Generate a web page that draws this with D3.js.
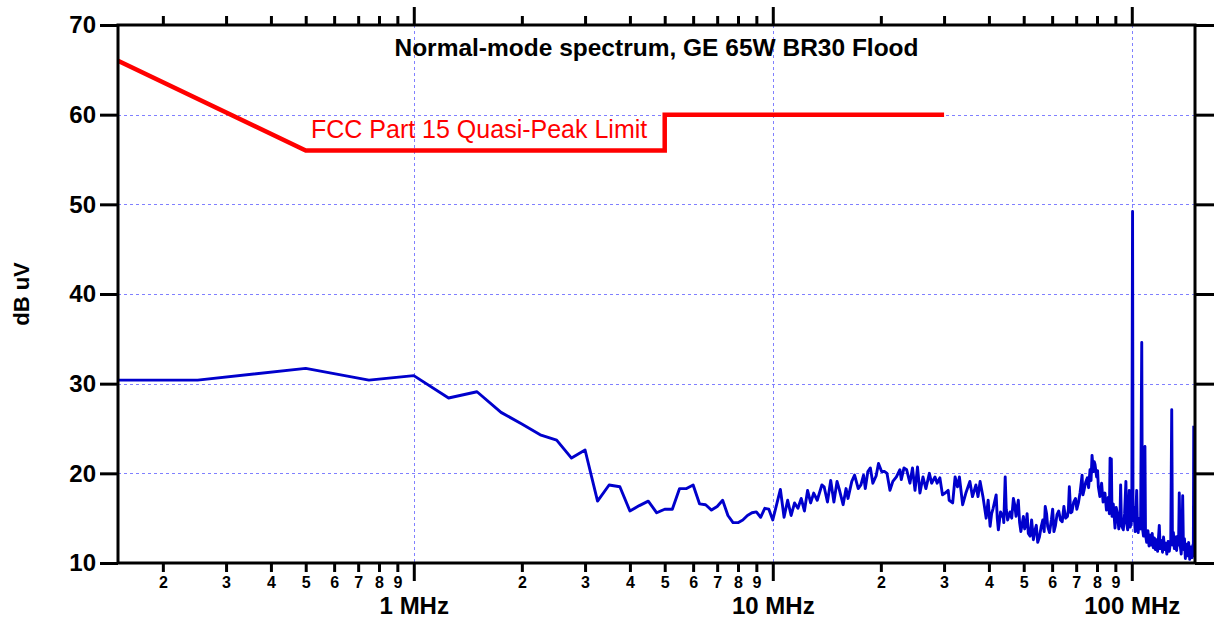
<!DOCTYPE html>
<html>
<head>
<meta charset="utf-8">
<script src="https://cdn.jsdelivr.net/npm/d3@7"></script>
<style>
  html, body { margin: 0; padding: 0; background: #fff; }
  svg { display: block; font-family: "Liberation Sans", Arial, Helvetica, sans-serif; }
</style>
</head>
<body>
<svg id="chart" width="1214" height="622"></svg>
<script>
(function() {
  // {{{ data
  var freqDomain = [0.15, 150];
  var dbDomain = [10, 70];
  var dbTicks = [10, 20, 30, 40, 50, 60, 70];
  var dbGrid = [20, 30, 40, 50, 60];
  var majorFreqs = [1, 10, 100];
  var majorLabels = ["1 MHz", "10 MHz", "100 MHz"];
  var minorFreqs = [0.2, 0.3, 0.4, 0.5, 0.6, 0.7, 0.8, 0.9,
                    2, 3, 4, 5, 6, 7, 8, 9,
                    20, 30, 40, 50, 60, 70, 80, 90];
  var minorLabels = ["2", "3", "4", "5", "6", "7", "8", "9",
                     "2", "3", "4", "5", "6", "7", "8", "9",
                     "2", "3", "4", "5", "6", "7", "8", "9"];

  // FCC Part 15 quasi-peak limit, [MHz, dBuV]
  var fccLimit = [[0.15, 66], [0.5, 56], [5, 56], [5, 60], [30, 60]];

  // measured spectrum, [MHz, dBuV]
  var spectrumLow = [
    [0.15, 30.4], [0.25, 30.4], [0.5, 31.7], [0.75, 30.4], [1.0, 30.9],
    [1.25, 28.4], [1.5, 29.1], [1.75, 26.8], [2.0, 25.5], [2.25, 24.3],
    [2.5, 23.7], [2.75, 21.7], [3.0, 22.6], [3.25, 16.9], [3.5, 18.7],
    [3.75, 18.5], [4.0, 15.8], [4.25, 16.4], [4.5, 16.9], [4.75, 15.6],
    [5.0, 16.0], [5.25, 16.0], [5.5, 18.3], [5.75, 18.3], [6.0, 18.7],
    [6.25, 16.6], [6.5, 16.5], [6.75, 15.9], [7.0, 16.3], [7.25, 17.0],
    [7.5, 15.3], [7.75, 14.5], [8.0, 14.5], [8.25, 14.8], [8.5, 15.3],
    [8.75, 15.6], [9.0, 15.7], [9.25, 15.1], [9.5, 16.1], [9.75, 16.0],
    [10.0, 14.8]
  ];
  var spectrumMid = [
    [10.5, 18.2], [10.75, 15.1], [11.0, 17.0], [11.25, 15.3], [11.5, 16.7],
    [11.75, 16.1], [12.0, 17.2], [12.25, 15.8], [12.5, 18.1], [12.75, 16.7],
    [13.0, 17.8], [13.3, 17.0], [13.7, 18.7], [13.9, 18.5], [14.2, 16.8],
    [14.5, 19.2], [14.8, 16.8], [15.1, 19.1], [15.3, 18.3], [15.7, 16.5],
    [16.0, 18.3], [16.2, 17.2], [16.6, 19.1], [16.9, 19.8], [17.3, 18.3],
    [17.6, 18.7], [17.9, 19.8], [18.1, 18.3], [18.4, 20.2], [18.7, 20.6],
    [19.0, 18.9], [19.4, 19.7], [19.7, 21.1], [20.1, 20.2], [20.5, 20.2],
    [20.8, 20.0], [21.2, 18.1], [21.6, 19.1], [22.1, 19.6], [22.6, 20.4],
    [22.8, 19.3], [23.2, 20.6], [23.6, 20.4], [24.1, 18.9], [24.5, 20.6],
    [24.9, 18.1], [25.3, 20.7], [25.7, 17.8], [26.2, 19.6], [26.7, 18.3],
    [27.3, 20.0], [27.7, 18.9], [28.3, 19.6], [28.7, 18.9], [29.2, 19.5],
    [29.7, 17.6], [30.2, 17.8], [30.8, 18.1], [31.0, 17.0], [31.7, 16.7],
    [32.2, 19.6], [32.7, 18.5], [33.1, 19.6], [33.8, 16.5], [34.5, 17.8],
    [35.4, 19.1], [36.0, 17.4], [36.8, 18.7], [37.3, 17.4], [37.8, 19.1],
    [38.5, 17.4], [39.3, 15.0], [39.8, 17.0]
  ];
  var spectrumHigh = [
    [40.3, 14.1], [40.7, 15.5], [41.1, 16.1], [41.9, 17.6], [42.2, 15.0],
    [42.5, 13.7], [43.1, 15.7], [43.9, 15.0], [44.0, 14.5], [44.4, 19.6],
    [44.7, 16.0], [45.1, 14.8], [45.8, 15.7], [46.3, 15.0], [46.8, 17.2],
    [47.2, 16.5], [47.6, 15.2], [48.3, 17.0], [48.7, 14.5], [49.1, 13.5],
    [49.9, 15.2], [50.3, 13.8], [50.8, 14.4], [51.1, 15.5], [51.5, 13.3],
    [52.1, 13.0], [52.6, 14.8], [53.2, 12.6], [53.7, 13.6], [54.2, 14.2],
    [54.7, 12.3], [55.3, 12.9], [55.9, 14.0], [56.5, 14.8], [57.0, 13.5],
    [57.4, 16.3], [57.9, 15.5], [58.3, 14.1], [59.0, 13.4], [59.7, 14.8],
    [60.2, 16.0], [60.7, 13.5], [61.3, 14.2], [61.9, 15.4], [62.6, 15.8],
    [63.3, 14.8], [64.0, 14.6], [64.7, 16.3], [65.4, 15.0], [66.2, 15.2],
    [66.6, 16.0], [67.0, 18.5], [67.6, 15.6], [68.1, 15.7], [68.9, 16.8],
    [69.7, 17.2], [70.3, 16.0], [71.0, 16.7], [71.8, 17.9], [72.7, 19.8],
    [73.1, 17.6], [73.6, 18.1], [74.4, 19.0], [75.2, 19.5], [75.8, 18.4],
    [76.5, 20.4], [77.0, 19.2], [77.5, 22.0], [78.2, 20.2], [78.6, 21.3],
    [79.0, 21.0], [79.8, 19.6], [80.3, 20.3], [80.7, 18.5], [81.5, 17.4],
    [82.4, 18.9], [83.2, 16.8], [84.2, 17.8], [85.0, 15.9], [86.0, 17.3],
    [86.6, 15.5], [87.0, 21.7], [87.4, 16.0], [87.7, 21.6], [88.1, 15.2],
    [88.8, 16.6], [89.8, 13.9], [90.5, 16.2], [91.1, 15.6], [92.0, 13.8],
    [92.7, 15.0], [93.1, 18.7], [93.6, 14.2], [94.7, 13.7], [95.5, 15.5],
    [96.3, 19.1], [96.8, 14.4], [97.4, 13.7], [98.4, 18.1], [99.0, 14.0],
    [99.5, 14.4], [100.0, 15.3], [100.5, 49.2], [100.8, 14.7], [101.4, 16.2],
    [102.2, 13.5], [103.2, 18.1], [103.7, 14.0], [104.2, 13.4], [105.0, 15.0],
    [105.8, 13.8], [106.6, 34.6], [107.0, 14.0], [107.8, 13.0], [108.4, 14.5],
    [108.8, 23.0], [109.2, 13.2], [110.0, 12.3], [110.9, 13.6], [111.7, 11.9],
    [112.4, 13.1], [113.4, 12.0], [114.0, 13.3], [114.8, 11.7], [115.6, 12.8],
    [116.4, 11.5], [117.2, 12.6], [118.0, 11.3], [119.3, 14.2], [120.0, 11.6],
    [121.0, 12.5], [121.8, 11.2], [122.6, 12.9], [123.4, 11.5], [124.3, 12.2],
    [125.2, 11.0], [126.2, 12.4], [127.2, 11.3], [128.4, 12.6], [129.2, 27.1],
    [129.8, 12.0], [130.6, 13.4], [131.4, 11.6], [132.4, 12.9], [133.3, 11.4],
    [134.2, 13.0], [135.0, 12.0], [135.6, 17.8], [136.3, 12.1], [137.3, 11.0],
    [138.0, 12.6], [138.6, 17.5], [139.3, 11.5], [140.2, 12.7], [141.0, 10.5],
    [142.0, 12.1], [143.0, 10.8], [144.0, 12.3], [145.0, 10.4], [146.0, 11.8],
    [147.2, 10.6], [148.0, 12.0], [148.4, 10.8], [148.8, 25.3]
  ];
  // }}}

  var W = 1214, H = 622;
  var margin = { top: 25, right: 19, bottom: 59, left: 118 };
  var x0 = margin.left, x1 = W - margin.right;
  var y0 = margin.top, y1 = H - margin.bottom;

  var x = d3.scaleLog().domain(freqDomain).range([x0, x1]);
  var y = d3.scaleLinear().domain(dbDomain).range([y1, y0]);

  var svg = d3.select("#chart");

  svg.append("defs").append("clipPath").attr("id", "plotclip")
    .append("rect")
      .attr("x", x0).attr("y", y0)
      .attr("width", x1 - x0).attr("height", y1 - y0);

  // {{{ grid
  var grid = svg.append("g")
    .attr("stroke", "#8080ff")
    .attr("stroke-width", 1)
    .attr("stroke-dasharray", "3,3");

  grid.selectAll("line.hgrid")
    .data(dbGrid)
    .enter()
    .append("line")
      .attr("class", "hgrid")
      .attr("x1", x0).attr("x2", x1)
      .attr("y1", function(d) { return Math.round(y(d)) + 0.5; })
      .attr("y2", function(d) { return Math.round(y(d)) + 0.5; });

  grid.selectAll("line.vgrid")
    .data(majorFreqs)
    .enter()
    .append("line")
      .attr("class", "vgrid")
      .attr("y1", y0).attr("y2", y1)
      .attr("x1", function(d) { return Math.round(x(d)) + 0.5; })
      .attr("x2", function(d) { return Math.round(x(d)) + 0.5; });
  // }}}

  // {{{ traces
  var line = d3.line()
    .x(function(d) { return x(d[0]); })
    .y(function(d) { return y(d[1]); });

  var spectrum = spectrumLow.concat(spectrumMid, spectrumHigh);

  var plot = svg.append("g").attr("clip-path", "url(#plotclip)");

  plot.append("path")
    .datum(spectrum)
    .attr("d", line)
    .attr("fill", "none")
    .attr("stroke", "#0000cc")
    .attr("stroke-width", 2.9)
    .attr("stroke-linejoin", "round");

  plot.append("path")
    .datum(fccLimit)
    .attr("d", line)
    .attr("fill", "none")
    .attr("stroke", "#ff0000")
    .attr("stroke-width", 4.5)
    .attr("stroke-linejoin", "miter");
  // }}}

  // {{{ axes
  function styleAxis(g) {
    g.select(".domain").remove();
    g.selectAll(".tick line").attr("stroke", "#000").attr("stroke-width", 3);
    g.selectAll(".tick text").attr("fill", "#000").attr("font-weight", "bold");
  }

  svg.append("g")
    .attr("transform", "translate(0," + y1 + ")")
    .call(d3.axisBottom(x).tickValues(minorFreqs).tickSize(9).tickPadding(5)
      .tickFormat(function(d, i) { return minorLabels[i]; }))
    .call(styleAxis)
    .attr("font-size", 16);

  svg.append("g")
    .attr("transform", "translate(0," + y1 + ")")
    .call(d3.axisBottom(x).tickValues(majorFreqs).tickSize(18).tickPadding(16)
      .tickFormat(function(d, i) { return majorLabels[i]; }))
    .call(styleAxis)
    .attr("font-size", 24);

  svg.append("g")
    .attr("transform", "translate(0," + y0 + ")")
    .call(d3.axisTop(x).tickValues(minorFreqs).tickSize(9).tickFormat(""))
    .call(styleAxis);

  svg.append("g")
    .attr("transform", "translate(0," + y0 + ")")
    .call(d3.axisTop(x).tickValues(majorFreqs).tickSize(18).tickFormat(""))
    .call(styleAxis);

  svg.append("g")
    .attr("transform", "translate(" + x0 + ",0)")
    .call(d3.axisLeft(y).tickValues(dbTicks).tickSize(18).tickPadding(4))
    .call(styleAxis)
    .attr("font-size", 24);

  svg.append("g")
    .attr("transform", "translate(" + x1 + ",0)")
    .call(d3.axisRight(y).tickValues(dbTicks).tickSize(19).tickFormat(""))
    .call(styleAxis);

  svg.append("rect")
    .attr("x", x0).attr("y", y0)
    .attr("width", x1 - x0).attr("height", y1 - y0)
    .attr("fill", "none")
    .attr("stroke", "#000")
    .attr("stroke-width", 3);
  // }}}

  // {{{ labels
  svg.append("text")
    .attr("x", (x0 + x1) / 2)
    .attr("y", 56)
    .attr("text-anchor", "middle")
    .attr("font-size", 24.5)
    .attr("font-weight", "bold")
    .text("Normal-mode spectrum, GE 65W BR30 Flood");

  svg.append("text")
    .attr("x", 311)
    .attr("y", 138)
    .attr("font-size", 25)
    .attr("fill", "#ff0000")
    .text("FCC Part 15 Quasi-Peak Limit");

  svg.append("text")
    .attr("transform", "translate(29," + ((y0 + y1) / 2) + ") rotate(-90)")
    .attr("text-anchor", "middle")
    .attr("font-size", 22)
    .attr("font-weight", "bold")
    .text("dB uV");
  // }}}
})();
</script>
</body>
</html>
